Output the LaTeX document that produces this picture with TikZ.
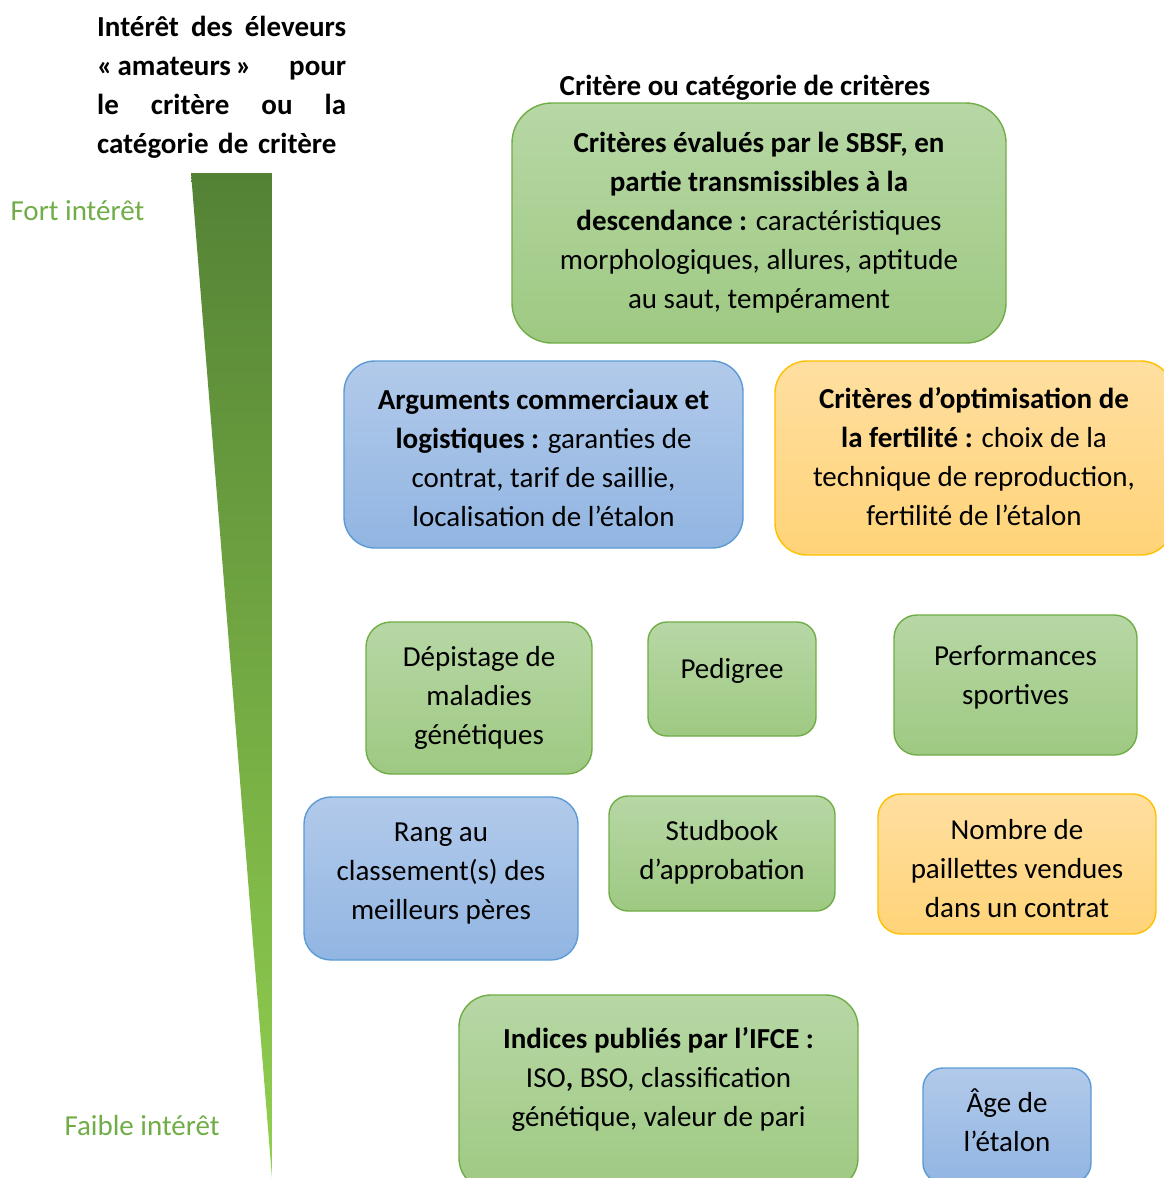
\documentclass[tikz,border=0pt]{standalone}
\usepackage{fontspec}
\setmainfont{Carlito}
\usepackage{xcolor}
\usetikzlibrary{positioning}
\definecolor{greenline}{RGB}{112,173,71}
\definecolor{greentop}{RGB}{183,215,165}
\definecolor{greenbot}{RGB}{158,201,130}
\definecolor{blueline}{RGB}{91,155,213}
\definecolor{bluetop}{RGB}{178,202,234}
\definecolor{bluebot}{RGB}{145,181,226}
\definecolor{orangeline}{RGB}{255,192,0}
\definecolor{orangetop}{RGB}{255,223,160}
\definecolor{orangebot}{RGB}{255,211,120}
\definecolor{wedgetop}{RGB}{84,130,53}
\definecolor{wedgebot}{RGB}{146,208,80}
\newcommand{\padbelow}[1]{\rule[-#1]{0pt}{#1}}
\newcommand{\padabove}[1]{\rule{0pt}{#1}}

\begin{document}
\begin{tikzpicture}[x=1pt, y=-1pt,
  every node/.style={font=\fontsize{29}{39}\selectfont},
  critbox/.style={align=center, inner sep=0pt, line width=1.4pt},
  greenbox/.style={critbox, draw=greenline, top color=greentop, bottom color=greenbot},
  bluebox/.style={critbox, draw=blueline, top color=bluetop, bottom color=bluebot},
  orangebox/.style={critbox, draw=orangeline, top color=orangetop, bottom color=orangebot},
  level/.style={text=greenline, anchor=west}]
\useasboundingbox (0,0) rectangle (1164,1178);
% interest scale
\shade[top color=wedgetop, bottom color=wedgebot] (191,173) -- (272,173) -- (272,1178) -- cycle;
\node[level] (fort) at (7,211) {Fort intérêt};
\node[level] (faible) at (61,1126) {Faible intérêt};
% headings
\node[anchor=north west, text width=249pt, align=left, inner sep=0pt, font=\fontsize{29}{39}\selectfont\bfseries] (interet) at (97,16)
  {Intérêt\hfill des\hfill éleveurs\\ «\,amateurs\,»\hfill pour\\ le\hfill critère\hfill ou\hfill la\\ catégorie de critère};
\node[font=\fontsize{29}{39}\selectfont\bfseries] (critere) at (745,88) {Critère ou catégorie de critères};
% criteria
\node[greenbox, minimum width=494pt, minimum height=240pt, rounded corners=40pt] (sbsf) at (759,223)
  {\textbf{Critères évalués par le SBSF, en}\\ \textbf{partie transmissibles à la}\\ \textbf{descendance :} caractéristiques\\ morphologiques, allures, aptitude\\ au saut, tempérament};
\node[bluebox, minimum width=399pt, minimum height=187pt, rounded corners=31pt] (commerce) at (543.5,454.5)
  {\padabove{28pt}\textbf{Arguments commerciaux et}\\ \textbf{logistiques :} garanties de\\ contrat, tarif de saillie,\\ localisation de l’étalon};
\node[orangebox, minimum width=398pt, minimum height=194pt, rounded corners=32pt] (fertilite) at (974,458)
  {\textbf{Critères d’optimisation de}\\ \textbf{la fertilité :} choix de la\\ technique de reproduction,\\ fertilité de l’étalon\padbelow{4pt}};
\node[greenbox, minimum width=226pt, minimum height=152pt, rounded corners=25pt] (depistage) at (479,698)
  {Dépistage de\\ maladies\\ génétiques};
\node[greenbox, minimum width=168pt, minimum height=114pt, rounded corners=19pt] (pedigree) at (732,679)
  {Pedigree\padbelow{21pt}};
\node[greenbox, minimum width=243pt, minimum height=140pt, rounded corners=23pt] (perf) at (1015.5,685)
  {Performances\\ sportives\padbelow{20pt}};
\node[bluebox, minimum width=274pt, minimum height=163pt, rounded corners=27pt] (rang) at (441,878.5)
  {Rang au\\ classement(s) des\\ meilleurs pères\padbelow{14pt}};
\node[greenbox, minimum width=226pt, minimum height=115pt, rounded corners=19pt] (studbook) at (722,853.5)
  {Studbook\\ d’approbation\padbelow{7pt}};
\node[orangebox, minimum width=278pt, minimum height=140pt, rounded corners=23pt] (paillettes) at (1017,864)
  {\padabove{29pt}Nombre de\\ paillettes vendues\\ dans un contrat};
\node[greenbox, minimum width=399pt, minimum height=195pt, rounded corners=32pt] (ifce) at (658.5,1092.5)
  {\textbf{Indices publiés par l’IFCE :}\\ ISO\textbf{,} BSO, classification\\ génétique, valeur de pari\padbelow{32pt}};
\node[bluebox, minimum width=168pt, minimum height=115pt, rounded corners=20pt] (age) at (1007,1125.5)
  {Âge de\\ l’étalon\padbelow{10pt}};
\end{tikzpicture}
\end{document}
